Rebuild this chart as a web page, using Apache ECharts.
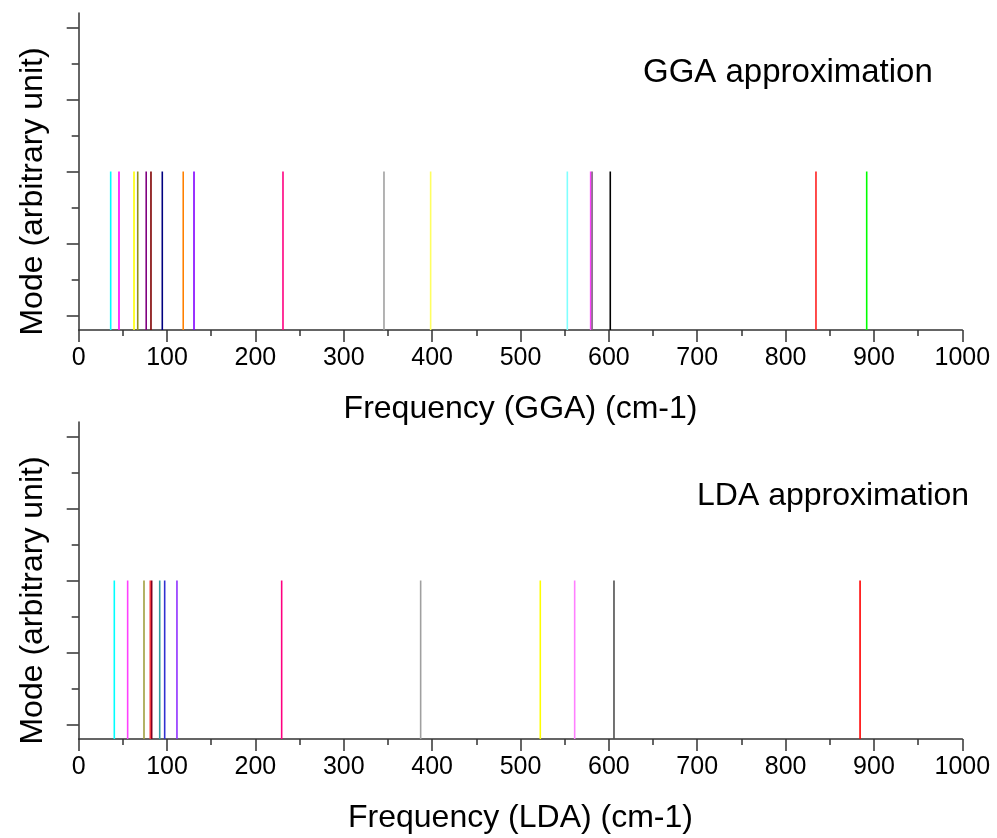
<!DOCTYPE html>
<html>
<head>
<meta charset="utf-8">
<title>Vibrational modes: GGA vs LDA</title>
<script src="https://cdn.jsdelivr.net/npm/echarts@6/dist/echarts.min.js"></script>
<style>
  html, body { margin: 0; padding: 0; background: #ffffff; }
  #chart { width: 997px; height: 838px; }
</style>
</head>
<body>
<div id="chart"></div>
<script>
// Mode frequencies (cm-1) and line colours, GGA calculation
const ggaFreq = [36.2, 45.6, 62.6, 66.8, 76.4, 81.8, 94.6, 118.3, 130.5, 231.2,
                 345.5, 398.3, 553.0, 579.4, 581.0, 601.6, 834.4, 891.8];
const ggaColors = ['#00ffff', '#ff00ff', '#ffff00', '#909020', '#800080', '#800000',
                   '#000080', '#ff8000', '#8000ff', '#ff0080', '#a0a0a0', '#ffff60',
                   '#80ffff', '#ff40ff', '#806080', '#000000', '#ff2020', '#00ff00'];

// Mode frequencies (cm-1) and line colours, LDA calculation
const ldaFreq = [40.3, 55.4, 73.9, 81.0, 82.6, 91.7, 97.3, 111.2, 229.7,
                 387.0, 522.4, 561.3, 605.8, 884.3];
const ldaColors = ['#00ffff', '#ff40ff', '#a0a040', '#ff4040', '#800020', '#30a0a0',
                   '#3030d0', '#9030ff', '#ff0080', '#a0a0a0', '#ffff00', '#ff80ff',
                   '#505050', '#ff0000'];

// Every mode is drawn as a stick of the same height
const modeLevel = 2;

// Axis ranges and tick values
const freqMin = 0, freqMax = 1000, freqStep = 100;
const modeMin = -0.2, modeMax = 4.2;
const modeMajorTicks = [0, 1, 2, 3, 4];
const modeMinorTicks = [0.5, 1.5, 2.5, 3.5];

const titles = {
  xGGA: 'Frequency (GGA) (cm-1)',
  xLDA: 'Frequency (LDA) (cm-1)',
  y: 'Mode (arbitrary unit)',
  ggaNote: 'GGA approximation',
  ldaNote: 'LDA approximation'
};

const FONT = "'Liberation Sans', Arial, sans-serif";
const AXIS_COLOR = '#333333';

function sticks(freqs, colors) {
  return freqs.map((f, i) => ({ value: [f, modeLevel], itemStyle: { color: colors[i] } }));
}

function stickSeries(gridIdx, freqs, colors) {
  return {
    type: 'custom',
    xAxisIndex: gridIdx,
    yAxisIndex: gridIdx * 2,
    clip: false,
    data: sticks(freqs, colors),
    renderItem: function (params, api) {
      const x = api.value(0);
      const top = api.coord([x, api.value(1)]);
      const base = api.coord([x, modeMin]);
      return {
        type: 'line',
        shape: { x1: base[0], y1: base[1], x2: top[0], y2: top[1] },
        style: { stroke: api.visual('color'), lineWidth: 1.6 }
      };
    }
  };
}

function freqAxis(gridIdx, name) {
  return {
    type: 'value',
    gridIndex: gridIdx,
    min: freqMin, max: freqMax, interval: freqStep,
    name: name,
    nameLocation: 'middle',
    nameGap: 63,
    nameTextStyle: { fontFamily: FONT, fontSize: 32, color: '#000' },
    axisLine: { show: true, onZero: false, lineStyle: { color: AXIS_COLOR, width: 1.5 } },
    axisTick: { show: true, inside: false, length: 12, lineStyle: { color: AXIS_COLOR, width: 1.5 } },
    minorTick: { show: true, splitNumber: 2, length: 6, lineStyle: { color: AXIS_COLOR, width: 1.5 } },
    axisLabel: { fontFamily: FONT, fontSize: 25, color: '#000', margin: 16,
                 formatter: function (v) { return String(v); } },
    splitLine: { show: false },
    minorSplitLine: { show: false }
  };
}

function modeAxes(gridIdx) {
  return [
    {
      type: 'value',
      gridIndex: gridIdx,
      min: modeMin, max: modeMax,
      name: titles.y,
      nameLocation: 'middle',
      nameGap: 30,
      nameTextStyle: { fontFamily: FONT, fontSize: 32, color: '#000', padding: [0, 40, 0, 0] },
      axisLine: { show: true, lineStyle: { color: AXIS_COLOR, width: 1.5 } },
      axisTick: { show: true, inside: false, length: 12, customValues: modeMajorTicks,
                  lineStyle: { color: AXIS_COLOR, width: 1.5 } },
      axisLabel: { show: false },
      splitLine: { show: false }
    },
    {
      type: 'value',
      gridIndex: gridIdx,
      position: 'left',
      offset: 0,
      min: modeMin, max: modeMax,
      axisLine: { show: false },
      axisTick: { show: true, inside: false, length: 7, customValues: modeMinorTicks,
                  lineStyle: { color: AXIS_COLOR, width: 1.5 } },
      axisLabel: { show: false },
      splitLine: { show: false }
    }
  ];
}

const chart = echarts.init(document.getElementById('chart'), null, { renderer: 'canvas' });

chart.setOption({
  backgroundColor: '#ffffff',
  animation: false,
  grid: [
    { left: 78.7, right: 34.7, top: 13, height: 317 },
    { left: 78.7, right: 34.7, top: 422, height: 317 }
  ],
  xAxis: [freqAxis(0, titles.xGGA), freqAxis(1, titles.xLDA)],
  yAxis: modeAxes(0).concat(modeAxes(1)),
  graphic: [
    {
      type: 'text', left: 643, top: 56,
      style: { text: titles.ggaNote, font: '33px ' + FONT, fill: '#000' }
    },
    {
      type: 'text', left: 697, top: 480,
      style: { text: titles.ldaNote, font: '32px ' + FONT, fill: '#000' }
    }
  ],
  series: [
    stickSeries(0, ggaFreq, ggaColors),
    stickSeries(1, ldaFreq, ldaColors)
  ]
});
</script>
</body>
</html>
